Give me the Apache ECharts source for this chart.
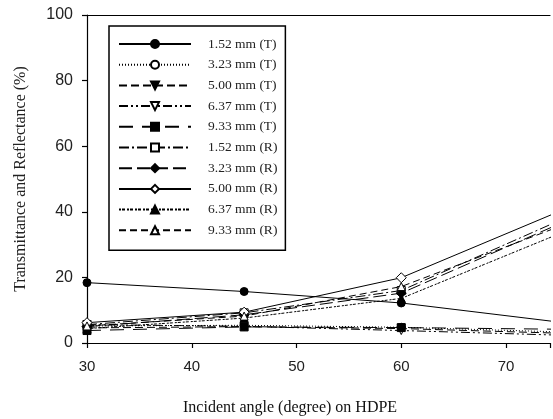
<!DOCTYPE html>
<html>
<head>
<meta charset="utf-8">
<script src="https://cdn.jsdelivr.net/npm/echarts@6/dist/echarts.min.js"></script>
<style>
  html,body{margin:0;padding:0;background:#fff}
  #box{width:553px;height:419px}
</style>
</head>
<body>
<div id="box"></div>
<script>
// incident angles (degree)
var angles = [30, 45, 60, 75];
var xTicks = [30, 40, 50, 60, 70];
// transmittance (T) and reflectance (R), %
var t152 = [18.4, 15.7, 12.2, 6.4];
var t323 = [5.2, 5.4, 4.8, 3.4];
var t500 = [4.6, 5.0, 4.4, 3.0];
var t637 = [5.6, 5.1, 3.8, 2.4];
var t933 = [3.8, 4.9, 4.7, 4.2];
var r152 = [5.6, 9.2, 16.0, 37.2];
var r323 = [5.0, 8.6, 15.2, 36.2];
var r500 = [6.2, 9.4, 19.9, 40.0];
var r637 = [4.4, 7.6, 13.6, 33.2];
var r933 = [5.2, 8.2, 17.2, 35.4];
var names = ['1.52 mm (T)','3.23 mm (T)','5.00 mm (T)','6.37 mm (T)','9.33 mm (T)',
             '1.52 mm (R)','3.23 mm (R)','5.00 mm (R)','6.37 mm (R)','9.33 mm (R)'];

function pairs(arr){
  return arr.map(function(v,i){ return [angles[i], v]; });
}
function line(name, arr, symbol, filled, dash, rotate){
  return {
    name: name,
    type: 'line',
    data: pairs(arr),
    clip: true,
    symbol: symbol,
    symbolSize: symbol === 'diamond' ? 10 : 8,
    symbolRotate: rotate || 0,
    lineStyle: {color: '#000', width: 1, type: dash},
    itemStyle: {color: filled ? '#000' : '#fff', borderColor: '#000', borderWidth: 1},
    emphasis: {disabled: true}
  };
}

var myChart = echarts.init(document.getElementById('box'));
// the original figure is cut at the right edge, around 74 degrees
var option = {
  animation: false,
  backgroundColor: '#fff',
  title: {
    text: 'Incident angle (degree) on HDPE',
    left: 178, top: 395,
    textStyle: {fontFamily: 'Liberation Serif', fontSize: 16, fontWeight: 'normal', color: '#111'}
  },
  grid: {left: 87, top: 15, right: 0, bottom: 76},
  legend: {
    orient: 'vertical',
    left: 109, top: 26,
    data: names,
    itemWidth: 72, itemHeight: 10, itemGap: 6.7,
    padding: [11, 8, 13, 9],
    borderColor: '#000', borderWidth: 1.5,
    textStyle: {fontFamily: 'Liberation Serif', fontSize: 13.5, color: '#222', padding: [0, 0, 0, 12]}
  },
  xAxis: [{
    type: 'value',
    min: 30, max: 74.2, interval: 10,
    axisLine: {lineStyle: {color: '#000', width: 1.2}},
    axisTick: {length: 5, lineStyle: {color: '#000', width: 1.2}},
    axisLabel: {
      margin: 16, fontFamily: 'Liberation Sans', fontSize: 15, color: '#222',
      formatter: function(v){ return xTicks.indexOf(v) >= 0 ? v : ''; }
    },
    splitLine: {show: false}
  }, {
    type: 'value', position: 'top',
    min: 30, max: 74.2,
    axisLine: {show: true, lineStyle: {color: '#000', width: 1.2}},
    axisTick: {show: false}, axisLabel: {show: false}, splitLine: {show: false}
  }],
  yAxis: {
    type: 'value',
    min: 0, max: 100, interval: 20,
    name: 'Transmittance and Reflectance (%)',
    nameLocation: 'middle', nameGap: 58,
    nameTextStyle: {fontFamily: 'Liberation Serif', fontSize: 16, color: '#222'},
    axisLine: {lineStyle: {color: '#000', width: 1.2}},
    axisTick: {length: 5, lineStyle: {color: '#000', width: 1.2}},
    axisLabel: {margin: 14, fontFamily: 'Liberation Sans', fontSize: 16, color: '#222'},
    splitLine: {show: false}
  },
  series: [
    line(names[0], t152, 'circle', true, 'solid'),
    line(names[1], t323, 'circle', false, [1, 2]),
    line(names[2], t500, 'triangle', true, [8, 4], 180),
    line(names[3], t637, 'triangle', false, [9, 3, 2, 3, 2, 3], 180),
    line(names[4], t933, 'rect', true, [14, 9]),
    line(names[5], r152, 'rect', false, [10, 3, 2, 3]),
    line(names[6], r323, 'diamond', true, [13, 5]),
    line(names[7], r500, 'diamond', false, 'solid'),
    line(names[8], r637, 'triangle', true, [2, 1, 3, 2]),
    line(names[9], r933, 'triangle', false, [7, 4])
  ]
};
myChart.setOption(option);
</script>
</body>
</html>
